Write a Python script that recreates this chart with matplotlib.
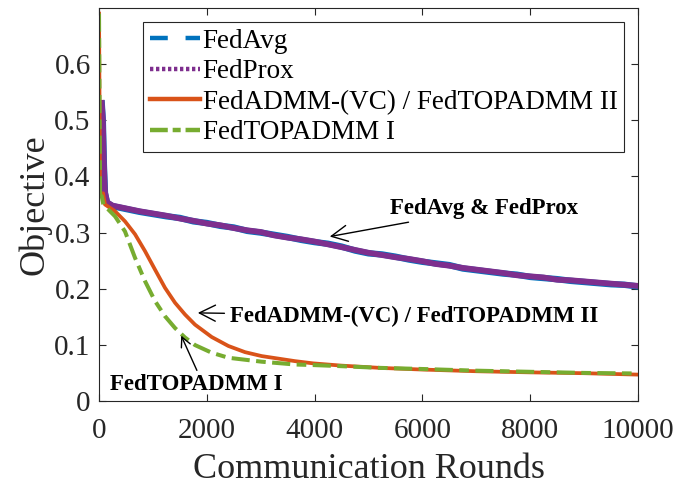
import matplotlib
matplotlib.use('Agg')
from matplotlib import pyplot as plt
from matplotlib.lines import Line2D

plt.rcParams['font.family'] = ['Liberation Serif', 'DejaVu Serif']

# communication rounds / objective values
rounds_avg = [50, 70, 90, 110, 150, 250, 500, 750, 1000, 1250, 1500, 1750, 2000,
              2250, 2500, 2750, 3000, 3250, 3500, 3750, 4000, 4250, 4500, 4750,
              5000, 5250, 5500, 5750, 6000, 6250, 6500, 6750, 7000, 7250, 7500,
              7750, 8000, 8250, 8500, 8750, 9000, 9250, 9500, 9750, 10000]
fedavg = [0.530, 0.500, 0.420, 0.370, 0.353, 0.347, 0.342, 0.337, 0.333, 0.329,
          0.326, 0.320, 0.317, 0.312, 0.309, 0.303, 0.300, 0.296, 0.292, 0.287,
          0.283, 0.280, 0.275, 0.268, 0.263, 0.261, 0.257, 0.252, 0.248, 0.245,
          0.242, 0.236, 0.233, 0.230, 0.227, 0.225, 0.221, 0.219, 0.217, 0.214,
          0.212, 0.210, 0.208, 0.207, 0.204]
fedprox = [0.531, 0.502, 0.422, 0.372, 0.354, 0.348, 0.343, 0.338, 0.334, 0.330,
           0.325, 0.321, 0.316, 0.313, 0.308, 0.304, 0.301, 0.295, 0.291, 0.288,
           0.284, 0.279, 0.274, 0.269, 0.264, 0.260, 0.256, 0.253, 0.249, 0.244,
           0.241, 0.237, 0.234, 0.231, 0.228, 0.224, 0.222, 0.220, 0.216, 0.215,
           0.213, 0.211, 0.209, 0.207, 0.205]

rounds_admm = [0, 20, 75, 111, 297, 482, 668, 853, 1039, 1224, 1410, 1596, 1781,
               2090, 2400, 2709, 3018, 3636, 3975, 4500, 5210, 6000, 7000, 8000,
               9000, 10000]
fedadmm = [0.690, 0.365, 0.370, 0.350, 0.338, 0.320, 0.297, 0.267, 0.234, 0.2016,
           0.175, 0.154, 0.136, 0.114, 0.098, 0.087, 0.080, 0.071, 0.067, 0.063,
           0.059, 0.056, 0.053, 0.051, 0.0495, 0.047]

rounds_top = [0, 20, 50, 80, 297, 482, 668, 853, 1039, 1224, 1410, 1596, 1781,
              2090, 2400, 3018, 3636, 3975, 4500, 5210, 6000, 7000, 8000, 9000,
              10000]
fedtop1 = [0.690, 0.360, 0.365, 0.350, 0.329, 0.302, 0.255, 0.2135, 0.178, 0.151,
           0.130, 0.113, 0.0996, 0.086, 0.077, 0.070, 0.065, 0.064, 0.062, 0.059,
           0.057, 0.054, 0.052, 0.050, 0.049]

c_blue = '#0072BD'
c_orange = '#D95319'
c_purple = '#7E2F8E'
c_green = '#77AC30'
grey = '#262626'

fig = plt.figure(figsize=(6.75, 4.87), dpi=100)
ax = fig.add_axes([0.1467, 0.1766, 0.7985, 0.807])

# dense noisy runs look like solid bands in the original
ax.plot(rounds_avg, fedavg, color=c_blue, lw=4.6)
ax.plot(rounds_avg, fedprox, color=c_purple, lw=4.2)
ax.plot(rounds_admm, fedadmm, color=c_orange, lw=2.7)
ax.plot(rounds_top, fedtop1, color=c_green, lw=2.9, dashes=(4.5, 1.6, 2.4, 1.6))

ax.set_xlim(0, 10000)
ax.set_ylim(0, 0.7)
ax.set_xticks([0, 2000, 4000, 6000, 8000, 10000])
ax.set_yticks([0, 0.1, 0.2, 0.3, 0.4, 0.5, 0.6])
ax.set_yticklabels(['0', '0.1', '0.2', '0.3', '0.4', '0.5', '0.6'])
ax.tick_params(direction='in', length=5, width=0.8, top=True, right=True,
               labelsize=21, colors=grey, pad=6)
ax.tick_params(axis='x', pad=12)
for s in ax.spines.values():
    s.set_color(grey)
    s.set_linewidth(0.8)

ax.set_xlabel('Communication Rounds', fontsize=26, color=grey, labelpad=7)
ax.set_ylabel('Objective', fontsize=26, color=grey, labelpad=2)

handles = [
    Line2D([], [], color=c_blue, lw=3.2, dashes=(4, 4)),
    Line2D([], [], color=c_purple, lw=3.2, dashes=(0.75, 0.6)),
    Line2D([], [], color=c_orange, lw=3.2),
    Line2D([], [], color=c_green, lw=3.2, dashes=(4, 1.1, 1.8, 1.1)),
]
labels = ['FedAvg', 'FedProx', 'FedADMM-(VC) / FedTOPADMM II', 'FedTOPADMM I']
leg = ax.legend(handles, labels, loc='upper left', bbox_to_anchor=(0.0816, 0.964),
                borderaxespad=0, fontsize=19.5, handlelength=1.85,
                handletextpad=0.1, labelspacing=0.2, borderpad=0.25,
                fancybox=False, framealpha=1, edgecolor=grey)
leg.get_frame().set_linewidth(0.8)

arr = dict(arrowstyle='->,head_length=0.7,head_width=0.35', color='black', lw=1)
ax.annotate('FedAvg & FedProx', xy=(4230, 0.292), xytext=(5400, 0.343),
            fontsize=16.5, fontweight='bold', va='center', ha='left', arrowprops=arr)
ax.annotate('FedADMM-(VC) / FedTOPADMM II', xy=(1781, 0.157), xytext=(2430, 0.151),
            fontsize=16.5, fontweight='bold', va='center', ha='left', arrowprops=arr)
ax.annotate('', xy=(1503, 0.121), xytext=(1837, 0.050), arrowprops=arr)
ax.text(204, 0.030, 'FedTOPADMM I', fontsize=16.5, fontweight='bold',
        va='center', ha='left')

fig.savefig('out.png', dpi=100)
